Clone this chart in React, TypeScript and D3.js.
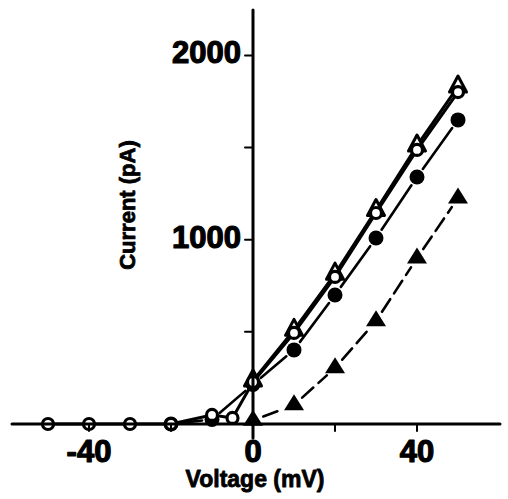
import React from "react";
import * as d3 from "d3";

// Current–voltage relations, four recording conditions
const VOLT_OPEN_CIRCLE = [-50, -40, -30, -20, -10, -5, 0, 10, 20, 30, 40, 50];
const CUR_OPEN_CIRCLE = [0, 0, 0, 0, 49, 33, 228, 494, 798, 1145, 1487, 1801];

const VOLT_OPEN_TRIANGLE = [0, 10, 20, 30, 40, 50];
const CUR_OPEN_TRIANGLE = [235, 510, 815, 1160, 1510, 1830];

const VOLT_FILLED_CIRCLE = [-20, -10, 0, 10, 20, 30, 40, 50];
const CUR_FILLED_CIRCLE = [0, 25, 215, 402, 700, 1009, 1340, 1650];

const VOLT_FILLED_TRIANGLE = [0, 10, 20, 30, 40, 50];
const CUR_FILLED_TRIANGLE = [20, 103, 304, 559, 900, 1226];

const X_TICKS = [-40, 0, 40];
const X_MINOR = [-40, -20, 0, 20, 40];
const Y_TICKS = [1000, 2000];
const Y_MINOR = [500, 1000, 1500, 2000];

const W = 508;
const H = 499;

const x = d3.scaleLinear().domain([-50, 50]).range([48, 458]);
const y = d3.scaleLinear().domain([0, 2000]).range([424, 55.4]);

type Pt = [number, number];

function pts(v: number[], c: number[]): Pt[] {
  return v.map((vv, i) => [x(vv), y(c[i])] as Pt);
}

// line pieces between neighbouring points, trimmed back from each marker
function segments(p: Pt[], gap: number): string[] {
  const out: string[] = [];
  for (let i = 0; i < p.length - 1; i++) {
    const [x1, y1] = p[i];
    const [x2, y2] = p[i + 1];
    const dx = x2 - x1;
    const dy = y2 - y1;
    const len = Math.hypot(dx, dy);
    if (len <= 2 * gap + 1) continue;
    const ux = dx / len;
    const uy = dy / len;
    const path = d3.path();
    path.moveTo(x1 + ux * gap, y1 + uy * gap);
    path.lineTo(x2 - ux * gap, y2 - uy * gap);
    out.push(path.toString());
  }
  return out;
}

const triUp = (cx: number, cy: number, hw: number, h: number) => {
  const p = d3.path();
  p.moveTo(cx, cy - (2 * h) / 3);
  p.lineTo(cx + hw, cy + h / 3);
  p.lineTo(cx - hw, cy + h / 3);
  p.closePath();
  return p.toString();
};

const FONT = "'Liberation Sans', Arial, sans-serif";

export default function App() {
  const oc = pts(VOLT_OPEN_CIRCLE, CUR_OPEN_CIRCLE);
  const ot = pts(VOLT_OPEN_TRIANGLE, CUR_OPEN_TRIANGLE);
  const fc = pts(VOLT_FILLED_CIRCLE, CUR_FILLED_CIRCLE);
  const ft = pts(VOLT_FILLED_TRIANGLE, CUR_FILLED_TRIANGLE);

  return (
    <svg
      width={W}
      height={H}
      style={{ position: "absolute", left: 0, top: 0, background: "#fff" }}
    >
      <rect width={W} height={H} fill="#fff" />

      {/* connecting lines */}
      <g stroke="#000" fill="none" strokeLinecap="round">
        {segments(ft, 11).map((d, i) => (
          <path key={"ft" + i} d={d} strokeWidth={2.6} strokeDasharray="15 7" />
        ))}
        {segments(fc, 10).map((d, i) => (
          <path key={"fc" + i} d={d} strokeWidth={2.6} />
        ))}
        {segments(ot, 0).map((d, i) => (
          <path key={"ot" + i} d={d} strokeWidth={3} />
        ))}
        {segments(oc, 0).map((d, i) => (
          <path key={"oc" + i} d={d} strokeWidth={3} />
        ))}
      </g>

      {/* markers */}
      <g>
        {ft.map(([px, py], i) => (
          <path key={"ftm" + i} d={triUp(px, py, 10, 16)} fill="#000" />
        ))}
        {fc.map(([px, py], i) => (
          <circle key={"fcm" + i} cx={px} cy={py} r={7.5} fill="#000" />
        ))}
        {ot.map(([px, py], i) => (
          <path
            key={"otm" + i}
            d={triUp(px, py, 8.5, 16)}
            fill="#fff"
            stroke="#000"
            strokeWidth={3}
            strokeLinejoin="round"
          />
        ))}
        {oc.map(([px, py], i) => (
          <circle
            key={"ocm" + i}
            cx={px}
            cy={py}
            r={5.5}
            fill="#fff"
            stroke="#000"
            strokeWidth={3.2}
          />
        ))}
      </g>

      {/* axes drawn over the markers */}
      <g stroke="#000" strokeLinecap="round">
        <line x1={12} x2={500} y1={y(0)} y2={y(0)} strokeWidth={3} />
        <line x1={x(0)} x2={x(0)} y1={10} y2={438} strokeWidth={3} />
        {X_MINOR.filter((t) => t !== 0).map((t) => (
          <line key={"xt" + t} x1={x(t)} x2={x(t)} y1={y(0)} y2={y(0) + 7} strokeWidth={2} />
        ))}
        {Y_MINOR.map((t) => (
          <line key={"yt" + t} x1={x(0) - 8} x2={x(0)} y1={y(t)} y2={y(t)} strokeWidth={2} />
        ))}
      </g>

      {/* tick labels */}
      <g
        fontFamily={FONT}
        fontWeight="bold"
        fontSize={31}
        fill="#000"
        stroke="#000"
        strokeWidth={1.2}
        strokeLinejoin="round"
      >
        {X_TICKS.map((t) => (
          <text key={"xl" + t} x={x(t)} y={462} textAnchor="middle">
            {t < 0 ? "-" + Math.abs(t) : String(t)}
          </text>
        ))}
        {Y_TICKS.map((t) => (
          <text key={"yl" + t} x={241} y={y(t) + 8} textAnchor="end">
            {t}
          </text>
        ))}
      </g>

      {/* axis titles */}
      <g
        fontFamily={FONT}
        fontWeight="bold"
        fill="#000"
        stroke="#000"
        strokeWidth={0.8}
        strokeLinejoin="round"
      >
        <text x={255} y={487} textAnchor="middle" fontSize={23}>
          Voltage (mV)
        </text>
        <text transform={`translate(135,205) rotate(-90)`} textAnchor="middle" fontSize={22}>
          Current (pA)
        </text>
      </g>
    </svg>
  );
}
